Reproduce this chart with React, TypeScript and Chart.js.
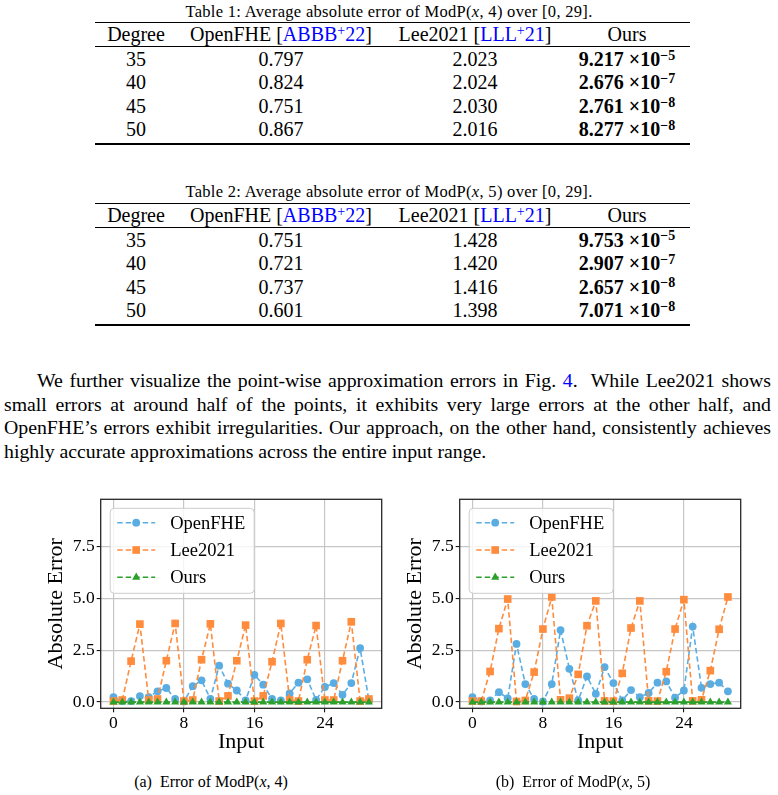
import React, { useEffect, useRef } from "react";
import { Chart, registerables } from "chart.js";

Chart.register(...registerables);

// ---- figure data -------------------------------------------------------
const inputs = [0, 1, 2, 3, 4, 5, 6, 7, 8, 9, 10, 11, 12, 13, 14, 15, 16, 17, 18, 19, 20, 21, 22, 23, 24, 25, 26, 27, 28, 29];

const openfheMod4 = [0.24, 0.05, 0.05, 0.29, 0.24, 0.52, 0.68, 0.15, 0.03, 0.77, 1.05, 0.16, 1.76, 0.89, 0.56, 0.08, 1.32, 0.84, 0.15, 0.08, 0.42, 0.94, 1.1, 0.11, 0.73, 0.92, 0.35, 0.92, 2.61, 0.08];
const lee2021Mod4 = [0.05, 0.1, 1.98, 3.77, 0.1, 0.15, 2.0, 3.8, 0.05, 0.1, 2.05, 3.78, 0.05, 0.3, 2.0, 3.72, 0.05, 0.3, 1.95, 3.8, 0.1, 0.05, 2.05, 3.7, 0.1, 0.1, 2.0, 3.88, 0.05, 0.15];
const oursMod4 = [0, 0, 0, 0, 0, 0, 0, 0, 0, 0, 0, 0, 0, 0, 0, 0, 0, 0, 0, 0, 0, 0, 0, 0, 0, 0, 0, 0, 0, 0];

const openfheMod5 = [0.24, 0.03, 0.08, 0.48, 0.18, 2.81, 0.87, 0.15, 0.03, 0.87, 3.48, 1.61, 0.08, 1.24, 0.4, 1.69, 0.92, 0.08, 0.58, 0.24, 0.44, 0.94, 1.0, 0.21, 0.56, 3.65, 0.69, 0.87, 0.94, 0.52];
const lee2021Mod5 = [0.05, 0.05, 1.48, 3.55, 4.98, 0.03, 0.08, 1.45, 3.53, 5.08, 0.11, 0.19, 1.34, 3.69, 4.89, 0.06, 0.05, 1.39, 3.58, 4.89, 0.06, 0.05, 1.47, 3.53, 4.95, 0.06, 0.11, 1.52, 3.52, 5.08];
const oursMod5 = [0, 0, 0, 0, 0, 0, 0, 0, 0, 0, 0, 0, 0, 0, 0, 0, 0, 0, 0, 0, 0, 0, 0, 0, 0, 0, 0, 0, 0, 0];

const seriesNames = ["OpenFHE", "Lee2021", "Ours"];
const xTicks = [0, 8, 16, 24];
const yTicks = [0, 2.5, 5, 7.5];

// ---- table data ----------------------------------------------------------
const degrees = ["35", "40", "45", "50"];
const openfheAvg4 = ["0.797", "0.824", "0.751", "0.867"];
const leeAvg4 = ["2.023", "2.024", "2.030", "2.016"];
const oursMant4 = ["9.217", "2.676", "2.761", "8.277"];
const oursExp4 = ["−5", "−7", "−8", "−8"];
const openfheAvg5 = ["0.751", "0.721", "0.737", "0.601"];
const leeAvg5 = ["1.428", "1.420", "1.416", "1.398"];
const oursMant5 = ["9.753", "2.907", "2.657", "7.071"];
const oursExp5 = ["−5", "−7", "−8", "−8"];

const SERIF = '"Liberation Serif", "Times New Roman", serif';
const LINK = "#0000ff";
const BLUE = "#5aade2";
const ORANGE = "#ff8b3d";
const GREEN = "#2ca02c";
const GRID = "#c6c6c6";

const seriesStyles = [
  { color: BLUE, shape: "circle", radius: 3.9 },
  { color: ORANGE, shape: "rect", radius: 5.4 },
  { color: GREEN, shape: "triangle", radius: 4.7 },
];

function drawMarker(ctx: CanvasRenderingContext2D, shape: string, x: number, y: number, r: number) {
  ctx.beginPath();
  if (shape === "circle") {
    ctx.arc(x, y, r, 0, Math.PI * 2);
  } else if (shape === "rect") {
    const s = r * Math.SQRT1_2;
    ctx.rect(x - s, y - s, 2 * s, 2 * s);
  } else {
    ctx.moveTo(x, y - r);
    ctx.lineTo(x + r * Math.sin((2 * Math.PI) / 3), y - r * Math.cos((2 * Math.PI) / 3));
    ctx.lineTo(x + r * Math.sin((4 * Math.PI) / 3), y - r * Math.cos((4 * Math.PI) / 3));
    ctx.closePath();
  }
  ctx.fill();
}

// black frame around the plotting area
const framePlugin = {
  id: "frame",
  afterDatasetsDraw(chart: any) {
    const { ctx, chartArea: a } = chart;
    ctx.save();
    ctx.strokeStyle = "#262626";
    ctx.lineWidth = 1.3;
    ctx.strokeRect(a.left, a.top, a.right - a.left, a.bottom - a.top);
    ctx.restore();
  },
};

// legend box drawn inside the upper-left corner of the plotting area
const insideLegendPlugin = {
  id: "insideLegend",
  afterDraw(chart: any) {
    const { ctx, chartArea: a } = chart;
    const x0 = a.left + 9.5;
    const y0 = a.top + 9;
    const w = 144;
    const h = 85;
    const rad = 4;
    ctx.save();
    ctx.beginPath();
    ctx.moveTo(x0 + rad, y0);
    ctx.lineTo(x0 + w - rad, y0);
    ctx.quadraticCurveTo(x0 + w, y0, x0 + w, y0 + rad);
    ctx.lineTo(x0 + w, y0 + h - rad);
    ctx.quadraticCurveTo(x0 + w, y0 + h, x0 + w - rad, y0 + h);
    ctx.lineTo(x0 + rad, y0 + h);
    ctx.quadraticCurveTo(x0, y0 + h, x0, y0 + h - rad);
    ctx.lineTo(x0, y0 + rad);
    ctx.quadraticCurveTo(x0, y0, x0 + rad, y0);
    ctx.closePath();
    ctx.fillStyle = "rgba(255,255,255,0.8)";
    ctx.fill();
    ctx.strokeStyle = "#cccccc";
    ctx.lineWidth = 1;
    ctx.stroke();

    seriesNames.forEach((name, i) => {
      const st = seriesStyles[i];
      const cy = y0 + 14.4 + i * 27.3;
      ctx.strokeStyle = st.color;
      ctx.fillStyle = st.color;
      ctx.lineWidth = 1.6;
      ctx.setLineDash([5.5, 3]);
      ctx.beginPath();
      ctx.moveTo(x0 + 7, cy);
      ctx.lineTo(x0 + 45, cy);
      ctx.stroke();
      ctx.setLineDash([]);
      drawMarker(ctx, st.shape, x0 + 26, cy, st.radius);
      ctx.fillStyle = "#000";
      ctx.font = `18.5px ${SERIF}`;
      ctx.textBaseline = "middle";
      ctx.textAlign = "left";
      ctx.fillText(name, x0 + 60, cy + 1);
    });
    ctx.restore();
  },
};

function ErrorChart(props: { left: number; openfhe: number[]; lee: number[]; ours: number[] }) {
  const ref = useRef<HTMLCanvasElement>(null);
  useEffect(() => {
    const series = [props.openfhe, props.lee, props.ours];
    const datasets = series.map((vals, i) => ({
      label: seriesNames[i],
      data: inputs.map((x, j) => ({ x, y: vals[j] })),
      borderColor: seriesStyles[i].color,
      backgroundColor: seriesStyles[i].color,
      borderWidth: 1.6,
      borderDash: [5.5, 3],
      pointStyle: seriesStyles[i].shape,
      pointRadius: seriesStyles[i].radius,
      pointBorderWidth: 0,
      pointHoverRadius: seriesStyles[i].radius,
      tension: 0,
      fill: false,
      clip: false,
      order: 3 - i,
    }));
    const tickFont = { family: SERIF, size: 17.5 };
    const titleFont = { family: SERIF, size: 22 };
    const chart = new Chart(ref.current as HTMLCanvasElement, {
      type: "line",
      data: { datasets } as any,
      options: {
        responsive: false,
        animation: false,
        devicePixelRatio: 1,
        layout: { padding: { top: 19.3, right: 8.3, left: 0, bottom: 0 } },
        plugins: { legend: { display: false }, tooltip: { enabled: false } },
        scales: {
          x: {
            type: "linear",
            min: -1.45,
            max: 30.45,
            afterBuildTicks: (s: any) => {
              s.ticks = xTicks.map((v) => ({ value: v }));
            },
            afterFit: (s: any) => {
              s.height = 56.7;
            },
            grid: { color: GRID, lineWidth: 1.2, tickColor: "#000", tickLength: 4, tickWidth: 1 },
            border: { display: false },
            ticks: {
              color: "#000",
              font: tickFont,
              padding: 1,
              maxRotation: 0,
              autoSkip: false,
              callback: (v: any) => String(v),
            },
            title: { display: true, text: "Input", color: "#000", font: titleFont, padding: { top: 0, bottom: 10 } },
          },
          y: {
            type: "linear",
            min: -0.3,
            max: 9.8,
            afterBuildTicks: (s: any) => {
              s.ticks = yTicks.map((v) => ({ value: v }));
            },
            afterFit: (s: any) => {
              s.width = 100.7;
            },
            grid: { color: GRID, lineWidth: 1.2, tickColor: "#000", tickLength: 4, tickWidth: 1 },
            border: { display: false },
            ticks: {
              color: "#000",
              font: tickFont,
              padding: 2,
              autoSkip: false,
              callback: (v: any) => Number(v).toFixed(1),
            },
            title: { display: true, text: "Absolute Error", color: "#000", font: titleFont, padding: { top: 43.5, bottom: 0 } },
          },
        },
      } as any,
      plugins: [framePlugin, insideLegendPlugin],
    });
    return () => chart.destroy();
  }, []);
  return (
    <canvas
      ref={ref}
      width={390}
      height={285}
      style={{ position: "absolute", left: props.left, top: 480, width: 390, height: 285 }}
    />
  );
}

const cellStyle = (cx: number, cy: number): React.CSSProperties => ({
  position: "absolute",
  left: cx - 150,
  top: cy - 12,
  width: 300,
  height: 24,
  lineHeight: "24px",
  textAlign: "center",
  whiteSpace: "nowrap",
});

const supStyle: React.CSSProperties = { fontSize: "0.7em", position: "relative", top: "-0.45em", verticalAlign: "baseline" };

const colX = [136, 281, 475, 627];

function Rule(props: { y: number; w: number }) {
  return <div style={{ position: "absolute", left: 95, top: props.y - props.w / 2, width: 595, height: props.w, background: "#000" }} />;
}

function ResultTable(props: {
  top: number;
  num: number;
  p: number;
  openfhe: string[];
  lee: string[];
  mant: string[];
  exp: string[];
}) {
  const t = props.top;
  return (
    <div style={{ fontFamily: SERIF, fontSize: 20, color: "#000" }}>
      <div style={{ ...cellStyle(389, t - 11), width: 560, left: 109, fontSize: 16.5, letterSpacing: 0.3 }}>
        Table {props.num}: Average absolute error of ModP(<i>x</i>, {props.p}) over [0, 29].
      </div>
      <Rule y={t} w={1.6} />
      <div style={cellStyle(colX[0], t + 11.7)}>Degree</div>
      <div style={cellStyle(colX[1], t + 11.7)}>
        OpenFHE [<span style={{ color: LINK }}>ABBB<span style={supStyle}>+</span>22</span>]
      </div>
      <div style={cellStyle(colX[2], t + 11.7)}>
        Lee2021 [<span style={{ color: LINK }}>LLL<span style={supStyle}>+</span>21</span>]
      </div>
      <div style={cellStyle(colX[3], t + 11.7)}>Ours</div>
      <Rule y={t + 24} w={1} />
      {degrees.map((d, i) => {
        const cy = t + 36.2 + i * 23.5;
        return (
          <React.Fragment key={d}>
            <div style={cellStyle(colX[0], cy)}>{d}</div>
            <div style={cellStyle(colX[1], cy)}>{props.openfhe[i]}</div>
            <div style={cellStyle(colX[2], cy)}>{props.lee[i]}</div>
            <div style={{ ...cellStyle(colX[3], cy), fontWeight: "bold" }}>
              {props.mant[i]} ×10<span style={supStyle}>{props.exp[i]}</span>
            </div>
          </React.Fragment>
        );
      })}
      <Rule y={t + 121.5} w={1.6} />
    </div>
  );
}

const lineStyle = (cy: number, left: number, justify: boolean): React.CSSProperties => ({
  position: "absolute",
  left,
  top: cy - 12,
  width: 771 - left,
  height: 24,
  lineHeight: "24px",
  whiteSpace: "nowrap",
  textAlign: justify ? "justify" : "left",
  textAlignLast: justify ? "justify" : "left",
});

export default function App() {
  return (
    <div
      style={{
        position: "absolute",
        left: 0,
        top: 0,
        width: 778,
        height: 795,
        background: "#fff",
        overflow: "hidden",
        fontFamily: SERIF,
        color: "#000",
      }}
    >
      <ResultTable top={22.7} num={1} p={4} openfhe={openfheAvg4} lee={leeAvg4} mant={oursMant4} exp={oursExp4} />
      <ResultTable top={203.3} num={2} p={5} openfhe={openfheAvg5} lee={leeAvg5} mant={oursMant5} exp={oursExp5} />

      <div style={{ fontSize: 19.8, fontFamily: SERIF }}>
        <div style={lineStyle(380, 37, true)}>
          We further visualize the point-wise approximation errors in Fig. <span style={{ color: LINK }}>4</span>.&nbsp; While Lee2021 shows
        </div>
        <div style={lineStyle(403.5, 4, true)}>
          small errors at around half of the points, it exhibits very large errors at the other half, and
        </div>
        <div style={lineStyle(427, 4, true)}>
          OpenFHE’s errors exhibit irregularities. Our approach, on the other hand, consistently achieves
        </div>
        <div style={lineStyle(450.5, 4, false)}>highly accurate approximations across the entire input range.</div>
      </div>

      <ErrorChart left={0} openfhe={openfheMod4} lee={lee2021Mod4} ours={oursMod4} />
      <ErrorChart left={358.6} openfhe={openfheMod5} lee={lee2021Mod5} ours={oursMod5} />

      <div style={{ ...cellStyle(211, 781.7), fontSize: 16 }}>
        (a)&nbsp;&nbsp;Error of ModP(<i>x</i>, 4)
      </div>
      <div style={{ ...cellStyle(573, 781.7), fontSize: 16 }}>
        (b)&nbsp;&nbsp;Error of ModP(<i>x</i>, 5)
      </div>
    </div>
  );
}
